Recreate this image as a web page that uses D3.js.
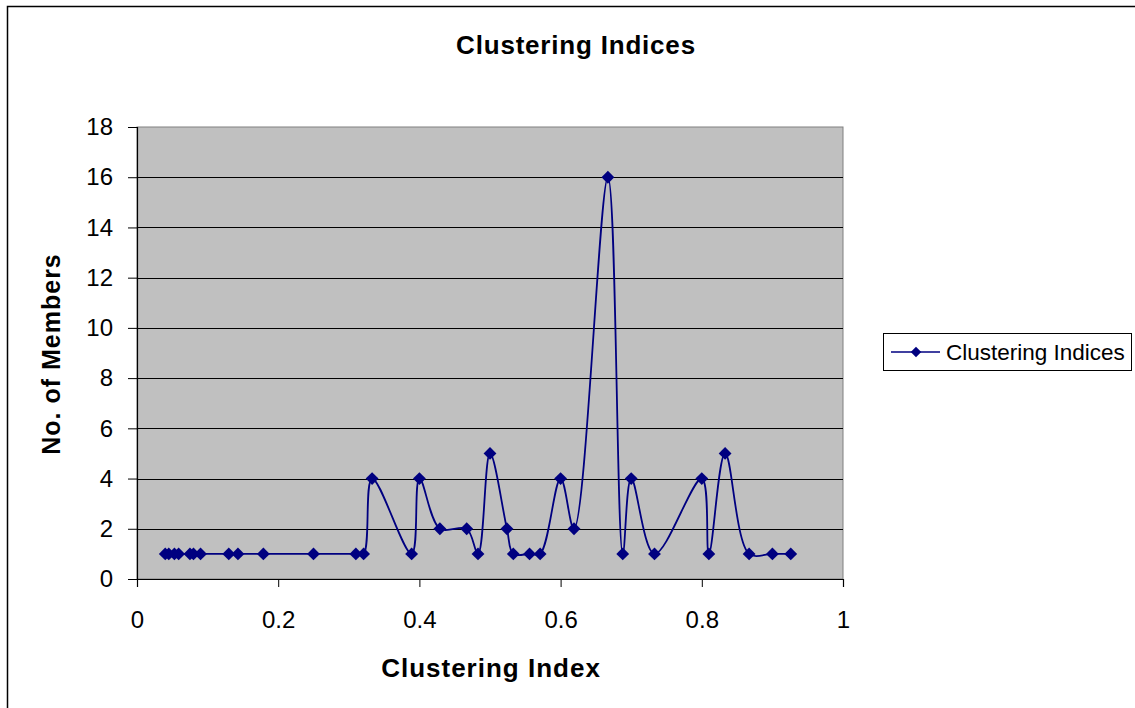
<!DOCTYPE html>
<html>
<head>
<meta charset="utf-8">
<script src="https://cdn.jsdelivr.net/npm/d3@7"></script>
<style>
  body { margin: 0; background: #fff; }
  svg text { font-family: "Liberation Sans", Arial, sans-serif; fill: #000; }
</style>
</head>
<body>
<div id="chart"></div>
<script>
// clustering index of each group and how many members it has
const clusterIndex = [0.04, 0.045, 0.053, 0.059, 0.075, 0.08, 0.09, 0.13, 0.143, 0.179,
  0.25, 0.31, 0.321, 0.333, 0.389, 0.4, 0.429, 0.467, 0.483, 0.5,
  0.524, 0.533, 0.556, 0.571, 0.6, 0.619, 0.667, 0.688, 0.7, 0.733,
  0.8, 0.81, 0.833, 0.867, 0.9, 0.926];
const members = [1, 1, 1, 1, 1, 1, 1, 1, 1, 1,
  1, 1, 1, 4, 1, 4, 2, 2, 1, 5,
  2, 1, 1, 1, 4, 2, 16, 1, 4, 1,
  4, 1, 5, 1, 1, 1];
const xTicks = [0, 0.2, 0.4, 0.6, 0.8, 1];
const yTicks = [0, 2, 4, 6, 8, 10, 12, 14, 16, 18];
const seriesName = 'Clustering Indices';

const width = 1135;
const height = 708;
const plot = { left: 137, top: 127, right: 843, bottom: 579 };
const navy = '#000080';

const data = clusterIndex.map((x, i) => ({ x, y: members[i] }));

const svg = d3.select('#chart').append('svg')
    .attr('width', width)
    .attr('height', height);

// chart border (runs off the right / bottom of the picture)
svg.append('rect')
    .attr('x', 7.5).attr('y', 6.5)
    .attr('width', width + 10).attr('height', height + 10)
    .attr('fill', '#fff')
    .attr('stroke', '#000')
    .attr('stroke-width', 1.5);

const x = d3.scaleLinear().domain([0, 1]).range([plot.left, plot.right]);
const y = d3.scaleLinear().domain([0, 18]).range([plot.bottom, plot.top]);

// plot background
svg.append('rect')
    .attr('x', plot.left).attr('y', plot.top)
    .attr('width', plot.right - plot.left)
    .attr('height', plot.bottom - plot.top)
    .attr('fill', '#c0c0c0')
    .attr('stroke', '#808080')
    .attr('stroke-width', 1);

// gridlines
svg.append('g')
    .selectAll('line')
    .data(yTicks.filter(d => d > 0 && d < 18))
    .join('line')
    .attr('x1', plot.left).attr('x2', plot.right)
    .attr('y1', d => Math.round(y(d)) + 0.5)
    .attr('y2', d => Math.round(y(d)) + 0.5)
    .attr('stroke', '#000')
    .attr('stroke-width', 1);

// axes
const yAxis = svg.append('g')
    .attr('transform', `translate(${plot.left},0)`)
    .call(d3.axisLeft(y).tickValues(yTicks).tickSize(9).tickPadding(15).tickFormat(d3.format('d')));
const xAxis = svg.append('g')
    .attr('transform', `translate(0,${plot.bottom})`)
    .call(d3.axisBottom(x).tickValues(xTicks).tickSize(8).tickPadding(24).tickFormat(d => d === 0 || d === 1 ? d : d3.format('.1f')(d)));

[xAxis, yAxis].forEach(ax => {
    ax.select('.domain').attr('stroke', '#000').attr('stroke-width', 1.2);
    ax.selectAll('.tick line').attr('stroke', '#000');
    ax.selectAll('.tick text')
        .attr('font-size', 24)
        .attr('font-family', '"Liberation Sans", Arial, sans-serif')
        .attr('fill', '#000');
});

// the series
const line = d3.line()
    .x(d => x(d.x))
    .y(d => y(d.y))
    .curve(d3.curveCatmullRom.alpha(0.5));

svg.append('path')
    .datum(data)
    .attr('d', line)
    .attr('fill', 'none')
    .attr('stroke', navy)
    .attr('stroke-width', 1.8);

const diamond = d3.symbol().type(d3.symbolDiamond2).size(105);
svg.append('g')
    .selectAll('path')
    .data(data)
    .join('path')
    .attr('transform', d => `translate(${x(d.x)},${y(d.y)})`)
    .attr('d', diamond)
    .attr('fill', navy);

// titles
svg.append('text')
    .attr('x', 576).attr('y', 54)
    .attr('text-anchor', 'middle')
    .attr('font-size', 26)
    .attr('letter-spacing', 0.8)
    .attr('font-weight', 'bold')
    .text('Clustering Indices');

svg.append('text')
    .attr('x', 491).attr('y', 677)
    .attr('text-anchor', 'middle')
    .attr('font-size', 26)
    .attr('letter-spacing', 1)
    .attr('font-weight', 'bold')
    .text('Clustering Index');

svg.append('text')
    .attr('transform', 'translate(60,354) rotate(-90)')
    .attr('text-anchor', 'middle')
    .attr('font-size', 25)
    .attr('letter-spacing', 1)
    .attr('font-weight', 'bold')
    .text('No. of Members');

// legend
const legend = svg.append('g').attr('transform', 'translate(883,333)');
legend.append('rect')
    .attr('x', 0.5).attr('y', 0.5)
    .attr('width', 248).attr('height', 37)
    .attr('fill', '#fff')
    .attr('stroke', '#000');
legend.append('line')
    .attr('x1', 8).attr('x2', 57)
    .attr('y1', 19).attr('y2', 19)
    .attr('stroke', navy)
    .attr('stroke-width', 1.6);
legend.append('path')
    .attr('transform', 'translate(33,19)')
    .attr('d', d3.symbol().type(d3.symbolDiamond2).size(70))
    .attr('fill', navy);
legend.append('text')
    .attr('x', 63).attr('y', 27)
    .attr('font-size', 22.5)
    .text(seriesName);
</script>
</body>
</html>
